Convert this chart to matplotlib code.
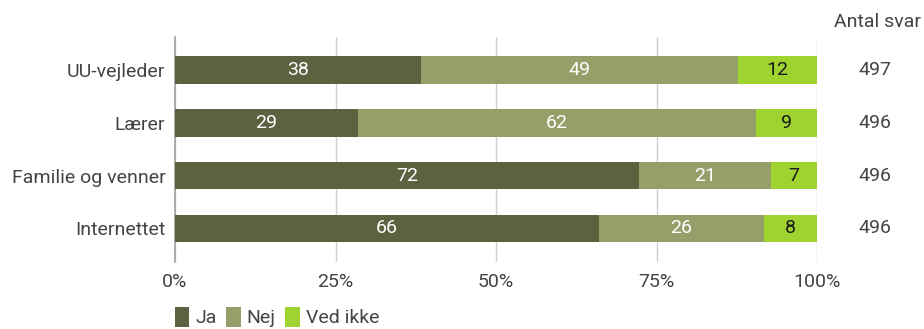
import numpy as np
import matplotlib.pyplot as plt
from matplotlib.patches import Patch

plt.rcParams['font.family'] = ['Roboto', 'DejaVu Sans']

categories = ["UU-vejleder", "Lærer", "Familie og venner", "Internettet"]
ja = [38.3, 28.5, 72.3, 66.0]
nej = [49.4, 62.0, 20.5, 25.7]
ved_ikke = [12.3, 9.5, 7.2, 8.3]
ja_lbl = [38, 29, 72, 66]
nej_lbl = [49, 62, 21, 26]
ved_lbl = [12, 9, 7, 8]
antal = [497, 496, 496, 496]
series_names = ["Ja", "Nej", "Ved ikke"]

colors = ["#5a6240", "#959f69", "#9fd330"]
txt_colors = ["white", "white", "#1a1a1a"]
fs = 14

fig = plt.figure(figsize=(9.24, 3.29), dpi=100)
ax = fig.add_axes([175/924, 1 - 262/329, (817-175)/924, (262-37)/329])

y = np.arange(len(categories))
left = np.zeros(len(categories))
for vals, lbls, c, tc in zip([ja, nej, ved_ikke], [ja_lbl, nej_lbl, ved_lbl], colors, txt_colors):
    bars = ax.barh(y, vals, left=left, height=0.52, color=c, zorder=3)
    for b, l in zip(bars, lbls):
        ax.text(b.get_x() + b.get_width()/2, b.get_y() + b.get_height()/2, str(l),
                ha='center', va='center', color=tc, fontsize=fs, zorder=4)
    left += np.array(vals)

ax.set_xlim(0, 100)
ax.set_ylim(3.64, -0.63)
ax.set_yticks(y)
ax.set_yticklabels(categories, fontsize=fs, color="#444444")
ax.set_xticks([0, 25, 50, 75, 100])
ax.set_xticklabels(["0%", "25%", "50%", "75%", "100%"], fontsize=fs, color="#444444")
ax.tick_params(axis='y', length=0, pad=7)
ax.tick_params(axis='x', length=0, pad=8)
ax.grid(axis='x', color="#d0d0d0", linewidth=1, zorder=0)
for s in ['top', 'right', 'bottom']:
    ax.spines[s].set_visible(False)
ax.spines['left'].set_color("#a0a0a0")
ax.spines['left'].set_linewidth(1.2)

# Antal svar column
fig.text(878/924, 1 - 22/329, "Antal svar", ha='center', va='center', fontsize=fs, color="#444444")
for yi, n in zip(y, antal):
    ax.text(1.09, yi, str(n), transform=ax.get_yaxis_transform(), ha='center', va='center',
            fontsize=fs, color="#444444")

handles = [Patch(facecolor=c, edgecolor='none') for c in colors]
fig.legend(handles, series_names, loc='center left', bbox_to_anchor=(161/924, 1 - 317/329),
           ncol=3, frameon=False, fontsize=fs, handlelength=0.75, handleheight=1.2,
           handletextpad=0.3, columnspacing=0.5, labelcolor="#444444", borderpad=0.2)

fig.savefig("out.png", dpi=100)
